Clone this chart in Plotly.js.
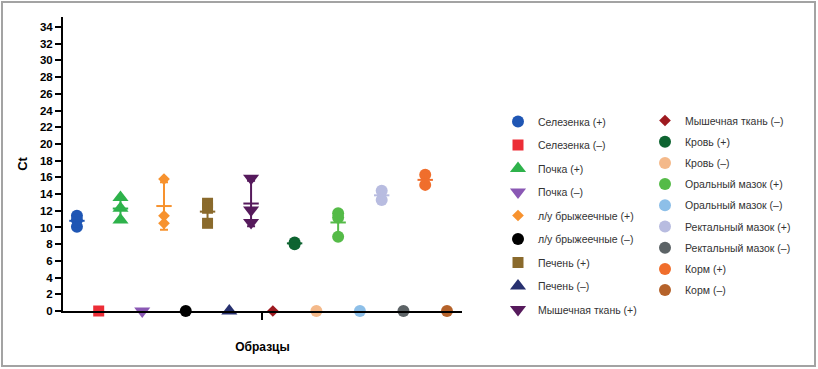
<!DOCTYPE html>
<html>
<head>
<meta charset="utf-8">
<script src="https://cdn.plot.ly/plotly-3.0.1.min.js"></script>
<style>
  html, body { margin: 0; padding: 0; background: #fff; }
  #wrap { position: relative; width: 818px; height: 369px; }
  #chart { position: absolute; left: 0; top: 0; width: 818px; height: 369px; }
  #frame { position: absolute; left: 1px; top: 1px; width: 815px; height: 366px;
           border: 2px solid #a3a3a3; box-sizing: border-box; pointer-events: none; }
</style>
</head>
<body>
<div id="wrap"><div id="chart"></div><div id="frame"></div></div>
<script>
// Category labels (legend order)
const labels = ['Селезенка (+)', 'Селезенка (–)', 'Почка (+)', 'Почка (–)',
  'л/у брыжеечные (+)', 'л/у брыжеечные (–)', 'Печень (+)', 'Печень (–)',
  'Мышечная ткань (+)', 'Мышечная ткань (–)', 'Кровь (+)', 'Кровь (–)',
  'Оральный мазок (+)', 'Оральный мазок (–)', 'Ректальный мазок (+)',
  'Ректальный мазок (–)', 'Корм (+)', 'Корм (–)'];

// Ct values per sample group
const spleenPos = [11.4, 10.9, 10.1];
const spleenNeg = [0];
const kidneyPos = [13.6, 12.3, 10.9];
const kidneyNeg = [0];
const lymphPos  = [15.8, 11.4, 10.5];
const lymphNeg  = [0];
const liverPos  = [12.9, 12.3, 10.5];
const liverNeg  = [0];
const musclePos = [15.9, 12.1, 10.6];
const muscleNeg = [0];
const bloodPos  = [8.2, 8.0];
const bloodNeg  = [0];
const oralPos   = [11.7, 11.2, 8.9];
const oralNeg   = [0];
const rectalPos = [14.4, 13.3];
const rectalNeg = [0];
const feedPos   = [16.3, 15.1];
const feedNeg   = [0];

const groups = [spleenPos, spleenNeg, kidneyPos, kidneyNeg, lymphPos, lymphNeg,
  liverPos, liverNeg, musclePos, muscleNeg, bloodPos, bloodNeg, oralPos, oralNeg,
  rectalPos, rectalNeg, feedPos, feedNeg];

const colors = ['#1f56b4', '#ec2d36', '#2eb24b', '#8a58b4', '#f7922e', '#000000',
  '#8a6a2c', '#27306f', '#561a5c', '#9e1a20', '#0e6431', '#f4b98a',
  '#55bb48', '#8dbfe8', '#b8bce0', '#5c6366', '#f06e2c', '#b5622a'];
const symbols = ['circle', 'square', 'triangle-up', 'triangle-down', 'diamond', 'circle',
  'square', 'triangle-up', 'triangle-down', 'diamond', 'circle', 'circle',
  'circle', 'circle', 'circle', 'circle', 'circle', 'circle'];
const sizeOf = {'circle': 12, 'square': 11, 'triangle-up': 14, 'triangle-down': 14, 'diamond': 9};

function mean(a) { return a.reduce((s, v) => s + v, 0) / a.length; }
function sd(a) {
  if (a.length < 2) return 0;
  const m = mean(a);
  return Math.sqrt(a.reduce((s, v) => s + (v - m) * (v - m), 0) / (a.length - 1));
}

const traces = [];
groups.forEach((vals, i) => {
  const col = i < 9 ? 'legend' : 'legend2';
  traces.push({
    type: 'scatter', mode: 'markers', name: labels[i],
    x: vals.map(() => i), y: vals,
    legend: col, legendgroup: 'g' + i,
    marker: {symbol: symbols[i], size: sizeOf[symbols[i]], color: colors[i], line: {width: 0}},
    cliponaxis: false, hoverinfo: 'name+y'
  });
});
// Mean ± SD for positive groups
groups.forEach((vals, i) => {
  if (vals.length < 2) return;
  traces.push({
    type: 'scatter', mode: 'markers', showlegend: false,
    x: [i], y: [mean(vals)], legendgroup: 'g' + i, legend: i < 9 ? 'legend' : 'legend2',
    marker: {symbol: 'line-ew', size: 11, color: colors[i], line: {width: 2, color: colors[i]}},
    error_y: {type: 'data', array: [sd(vals)], visible: true, color: colors[i], thickness: 2, width: 4},
    cliponaxis: false, hoverinfo: 'y'
  });
});

const legendFont = {family: '"Liberation Sans", Arial, sans-serif', size: 10.5, color: '#333'};
const layout = {
  width: 818, height: 369,
  margin: {l: 63, r: 356, t: 17, b: 58},
  paper_bgcolor: '#fff', plot_bgcolor: '#fff',
  showlegend: true,
  font: {family: '"Liberation Sans", Arial, sans-serif', color: '#000'},
  xaxis: {
    range: [-0.64, 17.69], showgrid: false, zeroline: false,
    showline: true, linecolor: '#000', linewidth: 2,
    tickmode: 'array', tickvals: [8.5], ticktext: [''],
    ticks: 'outside', ticklen: 7, tickwidth: 2, tickcolor: '#000',
    showticklabels: false,
    title: {text: '<b>Образцы</b>', font: {size: 12, color: '#000'}, standoff: 24}
  },
  yaxis: {
    range: [0, 35.2], showgrid: false, zeroline: false,
    showline: true, linecolor: '#000', linewidth: 2,
    tick0: 0, dtick: 2, ticks: 'outside', ticklen: 6, tickwidth: 2, tickcolor: '#000',
    tickfont: {size: 11.5, color: '#000', weight: 'bold'},
    title: {text: '<b>Ct</b>', font: {size: 13, color: '#000'}, standoff: 9}
  },
  legend: {
    x: (498 - 63) / 399, y: (311 - 107) / 294, xanchor: 'left', yanchor: 'top',
    traceorder: 'grouped', tracegroupgap: 4.5, font: legendFont,
    bgcolor: 'rgba(0,0,0,0)', borderwidth: 0
  },
  legend2: {
    x: (645 - 63) / 399, y: (311 - 106) / 294, xanchor: 'left', yanchor: 'top',
    traceorder: 'grouped', tracegroupgap: 2.2, font: legendFont,
    bgcolor: 'rgba(0,0,0,0)', borderwidth: 0
  }
};

Plotly.newPlot('chart', traces, layout, {displayModeBar: false, staticPlot: true});
</script>
</body>
</html>
